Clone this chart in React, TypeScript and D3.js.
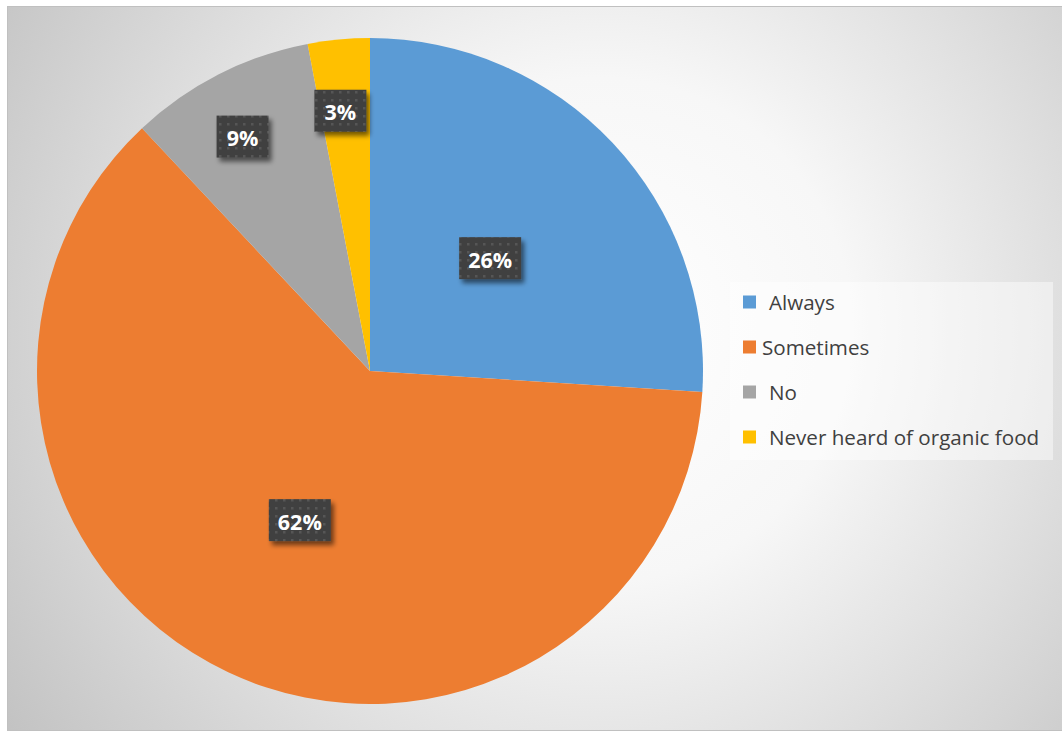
import React from "react";
import * as d3 from "d3";

const categories = ["Always", "Sometimes", "No", "Never heard of organic food"];
const values = [26, 62, 9, 3];
const colors = ["#5B9BD5", "#ED7D31", "#A5A5A5", "#FFC000"];
const labelRadiusFactor = [0.495, 0.495, 0.79, 0.785];
const labelShiftX = [0, 0, -8, -5];

const W = 1062;
const H = 731;

export default function App() {
  const cx = 370;
  const cy = 371;
  const r = 333;
  const total = d3.sum(values);
  const pie = d3.pie<number>().sort(null).value((d) => d)(values);
  const arc = d3.arc<d3.PieArcDatum<number>>().innerRadius(0).outerRadius(r);

  const legendX = 730;
  const legendY = 282;
  const rowY = d3.scalePoint<string>().domain(categories).range([302, 437]);

  return (
    <div style={{ position: "absolute", left: 0, top: 0 }}>
      <svg width={W} height={H} style={{ display: "block" }}>
        <defs>
          <radialGradient id="bg" gradientUnits="userSpaceOnUse" cx={600} cy={330} r={720}>
            <stop offset="0" stopColor="#ffffff" />
            <stop offset="0.35" stopColor="#f7f7f7" />
            <stop offset="1" stopColor="#c2c2c2" />
          </radialGradient>
          <pattern id="dots" patternUnits="userSpaceOnUse" width={8} height={8}>
            <rect width={8} height={8} fill="#404040" />
            <rect x={3} y={3} width={2.5} height={2.5} fill="#575757" />
          </pattern>
          <filter id="shadow" x="-30%" y="-30%" width="160%" height="170%">
            <feGaussianBlur in="SourceAlpha" stdDeviation="2.5" />
            <feOffset dx="3" dy="4" result="b" />
            <feComponentTransfer>
              <feFuncA type="linear" slope="0.55" />
            </feComponentTransfer>
            <feMerge>
              <feMergeNode />
              <feMergeNode in="SourceGraphic" />
            </feMerge>
          </filter>
        </defs>
        <rect x={0} y={0} width={W} height={H} fill="#ffffff" />
        <rect x={7.5} y={6.5} width={W - 7} height={H - 7} fill="url(#bg)" stroke="#c0c0c0" strokeWidth={1} />

        <g transform={`translate(${cx},${cy})`}>
          {pie.map((p, i) => (
            <path key={i} d={arc(p) || ""} fill={colors[i]} />
          ))}
        </g>

        {pie.map((p, i) => {
          const mid = (p.startAngle + p.endAngle) / 2;
          const rr = r * labelRadiusFactor[i];
          const lx = cx + rr * Math.sin(mid) + labelShiftX[i];
          const ly = cy - rr * Math.cos(mid);
          const txt = `${Math.round((values[i] / total) * 100)}%`;
          const bw = txt.length === 2 ? 52 : 62;
          const bh = 42;
          return (
            <g key={i}>
              <rect
                x={lx - bw / 2}
                y={ly - bh / 2}
                width={bw}
                height={bh}
                fill="url(#dots)"
                filter="url(#shadow)"
              />
              <text
                x={lx}
                y={ly + 1}
                textAnchor="middle"
                dominantBaseline="central"
                fill="#ffffff"
                fontFamily="'Open Sans', sans-serif"
                fontWeight="bold"
                fontSize={21.5}
              >
                {txt}
              </text>
            </g>
          );
        })}

        <rect x={legendX} y={legendY} width={323} height={178} fill="#ffffff" fillOpacity={0.45} />
        {categories.map((c, i) => {
          const y = rowY(c) as number;
          const tx = i === 1 ? 762 : 769;
          return (
            <g key={c}>
              <rect x={743} y={y - 6.5} width={13} height={13} fill={colors[i]} />
              <text
                x={tx}
                y={y}
                dominantBaseline="central"
                fill="#404040"
                fontFamily="'Open Sans', sans-serif"
                fontSize={20.6}
              >
                {c}
              </text>
            </g>
          );
        })}
      </svg>
    </div>
  );
}
